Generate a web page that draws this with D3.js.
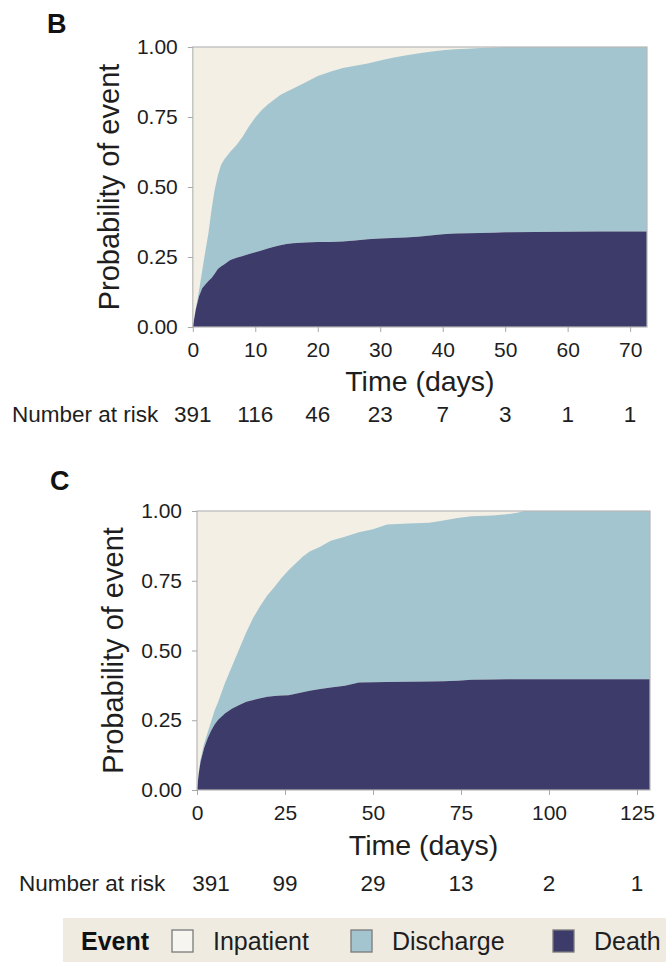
<!DOCTYPE html>
<html>
<head>
<meta charset="utf-8">
<script src="https://cdn.jsdelivr.net/npm/d3@7"></script>
<style>
  html, body { margin: 0; padding: 0; background: #ffffff; }
  svg { display: block; font-family: "Liberation Sans", Arial, Helvetica, sans-serif; }
</style>
</head>
<body>
<svg id="chart" width="666" height="962"></svg>
<script>
// ---------------- DATA ----------------
// Panel B
const timeB = [0, 0.5, 1, 1.5, 2, 2.5, 3, 3.5, 4, 4.5, 5, 6, 7, 8, 9, 10, 11, 12, 13, 14, 15, 16, 18, 20, 22, 24, 26, 28, 30, 32, 34, 36, 38, 40, 42, 44, 46, 48, 50, 55, 60, 65, 72.7];
const deathB = [0, 0.065, 0.11, 0.138, 0.152, 0.164, 0.175, 0.19, 0.207, 0.216, 0.223, 0.239, 0.247, 0.254, 0.261, 0.267, 0.273, 0.28, 0.287, 0.292, 0.296, 0.299, 0.302, 0.304, 0.304, 0.305, 0.309, 0.313, 0.316, 0.318, 0.32, 0.322, 0.327, 0.331, 0.334, 0.335, 0.336, 0.337, 0.338, 0.339, 0.34, 0.341, 0.341];
const deathOrDischargeB = [0, 0.07, 0.13, 0.2, 0.27, 0.335, 0.42, 0.49, 0.54, 0.578, 0.597, 0.626, 0.65, 0.68, 0.717, 0.748, 0.774, 0.795, 0.812, 0.829, 0.84, 0.851, 0.873, 0.896, 0.912, 0.925, 0.933, 0.941, 0.952, 0.962, 0.97, 0.977, 0.983, 0.988, 0.992, 0.994, 0.996, 0.998, 1, 1, 1, 1, 1];
const xTicksB = [0, 10, 20, 30, 40, 50, 60, 70];
const riskB = [391, 116, 46, 23, 7, 3, 1, 1];

// Panel C
const timeC = [0, 0.5, 1, 2, 3, 4, 5, 6, 8, 10, 12, 14, 16, 18, 20, 22, 24, 26, 28, 30, 32, 35, 38, 42, 46, 50, 54, 60, 66, 70, 74, 78, 84, 88, 91, 93, 128.7];
const deathC = [0, 0.06, 0.1, 0.15, 0.185, 0.212, 0.235, 0.252, 0.275, 0.292, 0.305, 0.316, 0.323, 0.329, 0.334, 0.337, 0.339, 0.34, 0.345, 0.35, 0.356, 0.362, 0.367, 0.374, 0.385, 0.386, 0.387, 0.388, 0.389, 0.39, 0.392, 0.395, 0.396, 0.397, 0.397, 0.397, 0.397];
const deathOrDischargeC = [0, 0.06, 0.11, 0.165, 0.205, 0.245, 0.285, 0.315, 0.385, 0.445, 0.505, 0.565, 0.618, 0.66, 0.698, 0.728, 0.76, 0.788, 0.812, 0.836, 0.855, 0.872, 0.893, 0.908, 0.924, 0.935, 0.952, 0.955, 0.958, 0.966, 0.975, 0.981, 0.984, 0.988, 0.994, 1, 1];
const xTicksC = [0, 25, 50, 75, 100, 125];
const riskC = [391, 99, 29, 13, 2, 1];

const yTicks = [0, 0.25, 0.5, 0.75, 1];
const eventNames = ["Inpatient", "Discharge", "Death"];

// ---------------- STYLE ----------------
const colors = { Inpatient: "#f3efe5", Discharge: "#a3c5cf", Death: "#3c3b6a" };
const textColor = "#1e1e1e";

const svg = d3.select("#chart");

function panel(cfg) {
  const g = svg.append("g");
  const x = d3.scaleLinear().domain([0, cfg.tMax]).range([cfg.left, cfg.right]);
  const y = d3.scaleLinear().domain([0, 1]).range([cfg.bottom, cfg.top]);
  const rows = cfg.time.map((t, i) => ({ t, d: cfg.death[i], dd: cfg.both[i] }));

  // Inpatient background
  g.append("rect")
    .attr("x", x(0)).attr("y", y(1))
    .attr("width", x(cfg.tMax) - x(0)).attr("height", y(0) - y(1))
    .attr("fill", colors.Inpatient);

  // Discharge band
  g.append("path").datum(rows)
    .attr("fill", colors.Discharge)
    .attr("d", d3.area().x(r => x(r.t)).y0(r => y(r.d)).y1(r => y(r.dd)));

  // Death band
  g.append("path").datum(rows)
    .attr("fill", colors.Death)
    .attr("d", d3.area().x(r => x(r.t)).y0(y(0)).y1(r => y(r.d)));

  // border
  g.append("rect")
    .attr("x", x(0)).attr("y", y(1))
    .attr("width", x(cfg.tMax) - x(0)).attr("height", y(0) - y(1))
    .attr("fill", "none").attr("stroke", "#b8b8b8").attr("stroke-width", 1.2);

  // y axis
  const ya = g.append("g").attr("transform", `translate(${x(0)},0)`)
    .call(d3.axisLeft(y).tickValues(yTicks).tickFormat(d3.format(".2f")).tickSize(5).tickPadding(10));
  ya.select(".domain").remove();
  ya.selectAll(".tick line").attr("stroke", "#a8a8a8");
  ya.selectAll(".tick text").attr("fill", textColor).style("font-size", "21px")
    .style("font-family", "'Liberation Sans', Arial, sans-serif");

  // x axis
  const xa = g.append("g").attr("transform", `translate(0,${y(0)})`)
    .call(d3.axisBottom(x).tickValues(cfg.xTicks).tickFormat(d3.format("d")).tickSize(5).tickPadding(10));
  xa.select(".domain").remove();
  xa.selectAll(".tick line").attr("stroke", "#a8a8a8");
  xa.selectAll(".tick text").attr("fill", textColor).style("font-size", "21px")
    .style("font-family", "'Liberation Sans', Arial, sans-serif");

  // axis titles
  g.append("text")
    .attr("transform", `translate(${cfg.yTitleX},${(y(0) + y(1)) / 2}) rotate(-90)`)
    .attr("text-anchor", "middle").attr("fill", textColor)
    .style("font-size", "29px").text("Probability of event");
  g.append("text")
    .attr("x", (x(0) + x(cfg.tMax)) / 2).attr("y", cfg.xTitleY)
    .attr("text-anchor", "middle").attr("fill", textColor)
    .style("font-size", "28.5px").text("Time (days)");

  // panel letter
  g.append("text").attr("x", cfg.letterX).attr("y", cfg.letterY)
    .attr("fill", "#111").style("font-size", "27px").style("font-weight", "bold")
    .text(cfg.letter);

  // number at risk
  g.append("text").attr("x", cfg.riskLabelX).attr("y", cfg.riskY)
    .attr("fill", textColor).style("font-size", "22.5px").text("Number at risk");
  g.selectAll(".risk").data(cfg.risk).enter().append("text")
    .attr("class", "risk")
    .attr("x", (d, i) => x(cfg.xTicks[i]) + (i === 0 ? cfg.firstShift : 0))
    .attr("y", cfg.riskY)
    .attr("text-anchor", "middle").attr("fill", textColor)
    .style("font-size", "22.5px").text(d => d);
}

panel({
  letter: "B", letterX: 47, letterY: 33,
  time: timeB, death: deathB, both: deathOrDischargeB, tMax: 72.7,
  left: 192.8, right: 647, top: 47, bottom: 327,
  xTicks: xTicksB, risk: riskB, firstShift: 0,
  yTitleX: 119, xTitleY: 391, riskLabelX: 12, riskY: 422
});

panel({
  letter: "C", letterX: 50, letterY: 490,
  time: timeC, death: deathC, both: deathOrDischargeC, tMax: 128.7,
  left: 197, right: 650, top: 511, bottom: 790,
  xTicks: xTicksC, risk: riskC, firstShift: 14,
  yTitleX: 123, xTitleY: 855, riskLabelX: 19, riskY: 891
});

// ---------------- LEGEND ----------------
const lg = svg.append("g");
lg.append("rect").attr("x", 63).attr("y", 918).attr("width", 603).attr("height", 44).attr("fill", "#efebe1");
lg.append("text").attr("x", 81).attr("y", 950).attr("fill", "#111")
  .style("font-size", "25px").style("font-weight", "bold").text("Event");
const keyX = [172, 351, 553];
eventNames.forEach((name, i) => {
  lg.append("rect").attr("x", keyX[i]).attr("y", 930).attr("width", 21).attr("height", 22)
    .attr("fill", name === "Inpatient" ? "#f7f5ef" : colors[name])
    .attr("stroke", "#7a7a7a").attr("stroke-width", 1.3);
  lg.append("text").attr("x", keyX[i] + 41).attr("y", 950).attr("fill", textColor)
    .style("font-size", "25px").text(name);
});
</script>
</body>
</html>
